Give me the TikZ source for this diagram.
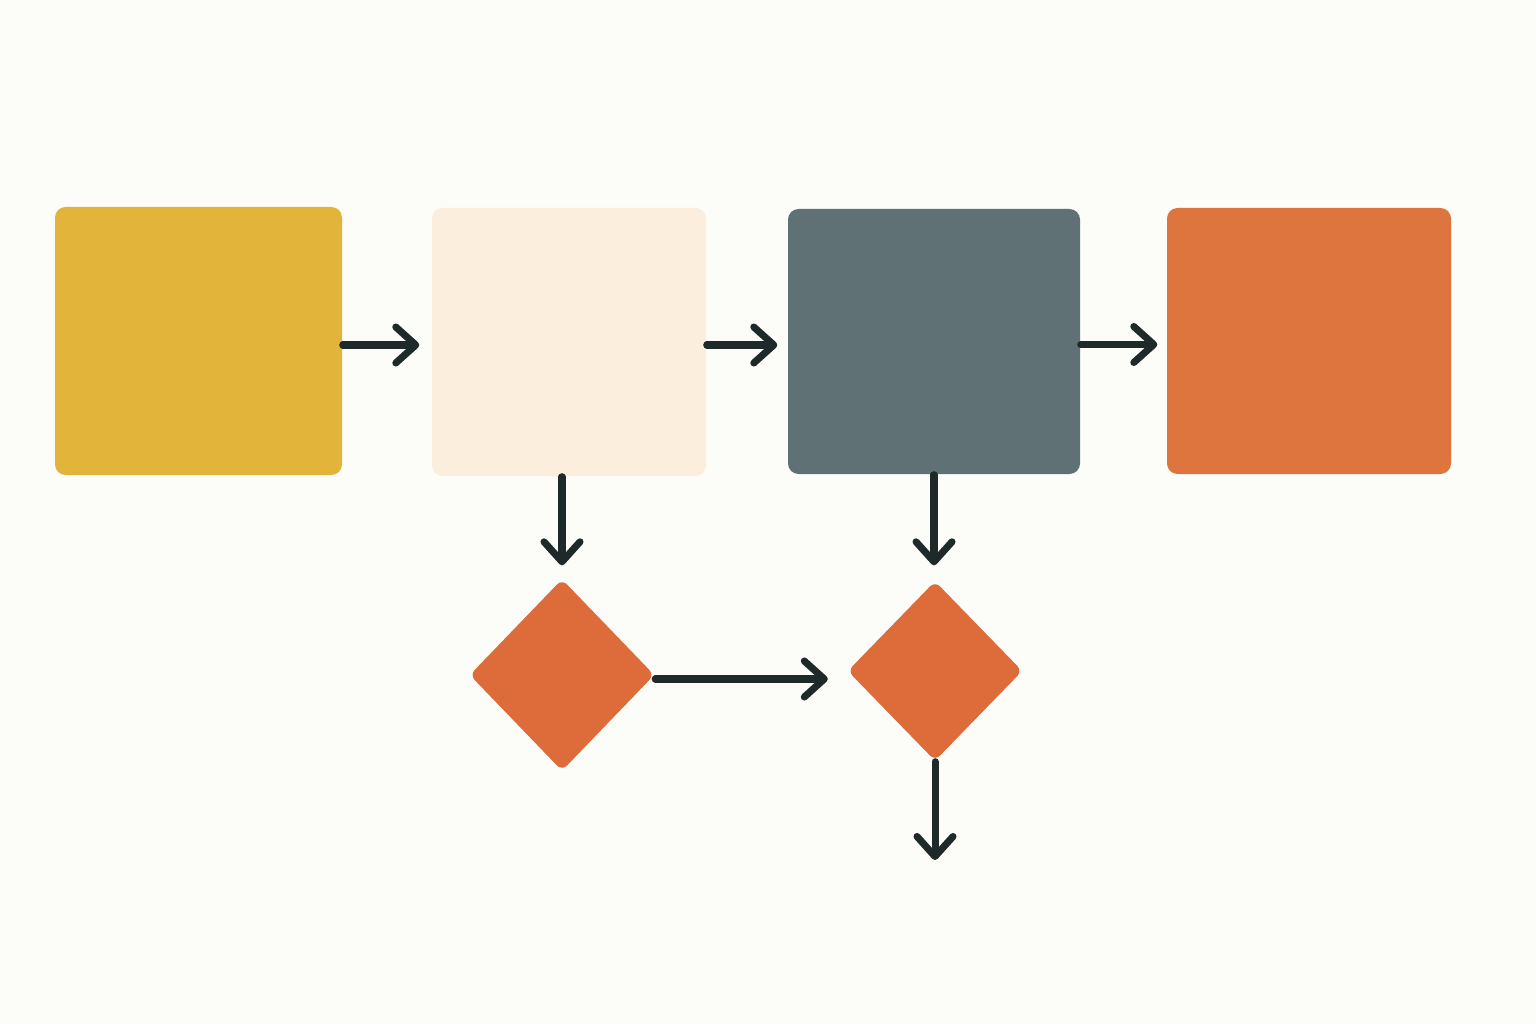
\documentclass[tikz,border=0pt]{standalone}
\usetikzlibrary{shapes.geometric,arrows.meta}
\definecolor{paper}{HTML}{FCFCF8}
\definecolor{mustard}{HTML}{E3B43A}
\definecolor{cream}{HTML}{FBEEDD}
\definecolor{slate}{HTML}{5F7174}
\definecolor{rust}{HTML}{DE743E}
\definecolor{rustdark}{HTML}{DD6C3A}
\definecolor{ink}{HTML}{1E2A2A}
\begin{document}
\begin{tikzpicture}[arrow/.style = {ink,line width=2pt,line cap=round,-{Straight Barb[length=2mm,width=3.6mm,line cap=round,line join=round]}},
                    box/.style = {rectangle,rounded corners=3pt,inner sep=0pt},
                    decision/.style = {diamond,rounded corners=2pt,inner sep=0pt,fill=rustdark}]
                    \fill[paper] (0,0) rectangle (15.36,10.24);

                    \node[box,fill=mustard,minimum width=2.87cm,minimum height=2.68cm] (collect) at (1.985,6.83) {};
                    \node[box,fill=cream,minimum width=2.74cm,minimum height=2.68cm] (sort) at (5.69,6.82) {};
                    \node[box,fill=slate,minimum width=2.92cm,minimum height=2.65cm] (process) at (9.34,6.825) {};
                    \node[box,fill=rust,minimum width=2.84cm,minimum height=2.66cm] (output) at (13.09,6.83) {};

                    \node[decision,minimum width=1.85cm,minimum height=1.92cm] (checkA) at (5.62,3.49) {};
                    \node[decision,minimum width=1.75cm,minimum height=1.8cm] (checkB) at (9.35,3.53) {};
                    \coordinate (exit) at (9.35,1.64);

                    \draw[arrow,shorten >=0.12cm] ([yshift=-0.04cm]collect.east) -- ([yshift=-0.04cm]collect.east -| sort.west);
                    \draw[arrow,shorten >=0.1cm] ([yshift=-0.03cm]sort.east) -- ([yshift=-0.03cm]sort.east -| process.west);
                    \draw[arrow,shorten >=0.09cm] ([yshift=-0.03cm]process.east) -- ([yshift=-0.03cm]process.east -| output.west);
                    \draw[arrow,shorten >=0.13cm] (sort.south -| checkA) -- (checkA.north);
                    \draw[arrow,shorten >=0.15cm] (process.south) -- (process.south |- checkB.north);
                    \draw[arrow,shorten >=0.19cm] ([yshift=-0.04cm]checkA.east) -- ([yshift=-0.04cm]checkA.east -| checkB.west);
                    \draw[arrow] (checkB.south) -- (exit);
                \end{tikzpicture}
\end{document}
